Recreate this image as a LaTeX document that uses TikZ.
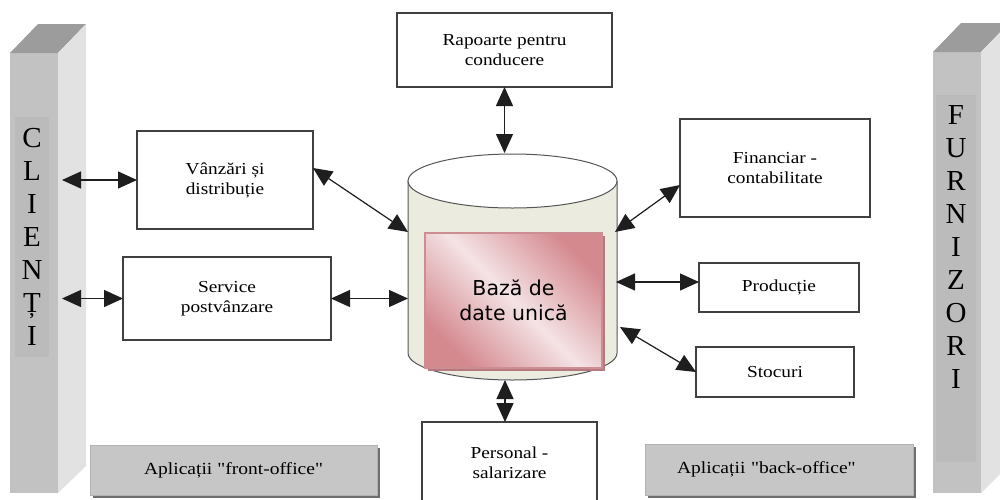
\documentclass[tikz,border=0pt]{standalone}
\usepackage{fontspec}
\setmainfont{Liberation Serif}
\newfontfamily\labelfont[FakeStretch=1.15]{Liberation Serif}
\newfontfamily\dbfont{DejaVu Sans}
\usetikzlibrary{arrows.meta,shadows,calc}

\definecolor{pillarfront}{HTML}{C2C2C2}
\definecolor{pillarinner}{HTML}{BBBBBB}
\definecolor{pillarside}{HTML}{E2E2E2}
\definecolor{pillartop}{HTML}{9C9C9C}
\definecolor{boxline}{HTML}{404040}
\definecolor{linkcol}{HTML}{1E1E1E}
\definecolor{cylbody}{HTML}{ECEBE0}
\definecolor{cylline}{HTML}{555555}
\definecolor{pinkdark}{HTML}{D4898F}
\definecolor{pinklight}{HTML}{F4E3E5}
\definecolor{pinkedge}{HTML}{CC8E93}
\definecolor{pinkshadow}{HTML}{B47A80}
\definecolor{appfill}{HTML}{C6C6C6}
\definecolor{appedge}{HTML}{B2B2B2}
\definecolor{appshadow}{HTML}{6E6E6E}

\begin{document}
\begin{tikzpicture}[x=1pt,y=-1pt,
  every node/.style={inner sep=0pt, outer sep=0pt},
  box/.style={draw=boxline, line width=1.1pt, fill=white, align=center,
    font=\labelfont\fontsize{16.8}{20}\selectfont},
  applabel/.style={fill=appfill, draw=appedge, line width=0.6pt,
    font=\labelfont\fontsize{17}{20}\selectfont,
    drop shadow={shadow xshift=3pt, shadow yshift=-3pt, fill=appshadow, opacity=1}},
  pletter/.style={font=\fontsize{29}{33}\selectfont, anchor=base},
  link/.style={{Triangle[length=19pt,width=17pt]}-{Triangle[length=19pt,width=17pt]},
    line width=1.2pt, draw=linkcol, fill=linkcol}
]
\useasboundingbox (0,0) rectangle (1000,499);
\clip (0,0) rectangle (1000,499);
\fill[white] (0,0) rectangle (1000,499);

% left pillar (customers)
\fill[pillarfront] (10,53) rectangle (58,493);
\fill[pillartop] (10,53) -- (38,24) -- (86,24) -- (58,53) -- cycle;
\fill[pillarside] (58,53) -- (86,24) -- (86,466) -- (58,493) -- cycle;
\fill[pillarinner] (15,117) rectangle (49,357);
\foreach \ch [count=\i] in {C,L,I,E,N,Ț,I}
  \node[pletter] (cl\i) at (32,{147+33*(\i-1)}) {\ch};

% right pillar (suppliers)
\fill[pillarfront] (933,52) rectangle (981,493);
\fill[pillartop] (933,52) -- (961,23) -- (1009,23) -- (981,52) -- cycle;
\fill[pillarside] (981,52) -- (1009,23) -- (1009,465) -- (981,493) -- cycle;
\fill[pillarinner] (936,95) rectangle (976,462);
\foreach \ch [count=\i] in {F,U,R,N,I,Z,O,R,I}
  \node[pletter] (fu\i) at (956,{124+33*(\i-1)}) {\ch};

% application modules
\node[box, minimum width=215, minimum height=74] (rap) at (504.5,50) {Rapoarte pentru\\conducere};
\node[box, minimum width=176, minimum height=98] (vz) at (225,180) {Vânzări și\\distribuție};
\node[box, minimum width=208, minimum height=83] (srv) at (227,298.5) {Service\\postvânzare};
\node[box, minimum width=190, minimum height=98] (fin) at (775,168) {Financiar -\\contabilitate};
\node[box, minimum width=160, minimum height=49] (prod) at (779,287.5) {Producție};
\node[box, minimum width=158, minimum height=50] (stoc) at (775,372) {Stocuri};
\node[box, minimum width=175, minimum height=82] (pers) at (509.5,463) {Personal -\\salarizare};

% front-office / back-office captions
\node[applabel, minimum width=287, minimum height=50] (front) at (233.5,470) {Aplicații "front-office"};
\node[applabel, text width=204, inner xsep=32pt, minimum height=51, align=left] (back) at (779,469.5) {Aplicații "back-office"};

% central database cylinder
\fill[cylbody] (408,181) -- (408,353) arc[start angle=180,end angle=0,x radius=104.5,y radius=27] -- (617,181) -- cycle;
\draw[cylline, line width=1pt] (408,181) -- (408,353) arc[start angle=180,end angle=0,x radius=104.5,y radius=27] -- (617,181);
\draw[cylline, line width=1pt, fill=white] (512.5,181) ellipse [x radius=104.5, y radius=27];

\node[shade, top color=pinkdark, bottom color=pinkdark, middle color=pinklight, shading angle=-45,
  draw=pinkedge, line width=1.2pt, minimum width=177, minimum height=135, align=center,
  drop shadow={shadow xshift=3pt, shadow yshift=-3pt, fill=pinkshadow, opacity=1},
  font=\dbfont\fontsize{20.5}{25}\selectfont] (db) at (513.5,300.5) {Bază de\\date unică};

% connection points on the cylinder and pillars
\coordinate (cA) at (408,232);
\coordinate (cB) at (408,298.5);
\coordinate (cC) at (504.5,153);
\coordinate (cD) at (615,232);
\coordinate (cE) at (616,282);
\coordinate (cF) at (620,327);
\coordinate (cG) at (505,380);
\coordinate (clA) at (62,180);
\coordinate (clB) at (62,298.5);

% data flows
\draw[link] (clA) -- (vz.west);
\draw[link] (clB) -- (srv.west);
\draw[link] ([yshift=12pt]vz.east) -- (cA);
\draw[link] (srv.east) -- (cB);
\draw[link] (rap.south) -- (cC);
\draw[link] ([yshift=-17pt]fin.west) -- (cD);
\draw[link] (cE) -- ([yshift=5.5pt]prod.west);
\draw[link] (cF) -- (stoc.west);
\draw[link] (cG) -- ([xshift=-4.5pt]pers.north);
\end{tikzpicture}
\end{document}
